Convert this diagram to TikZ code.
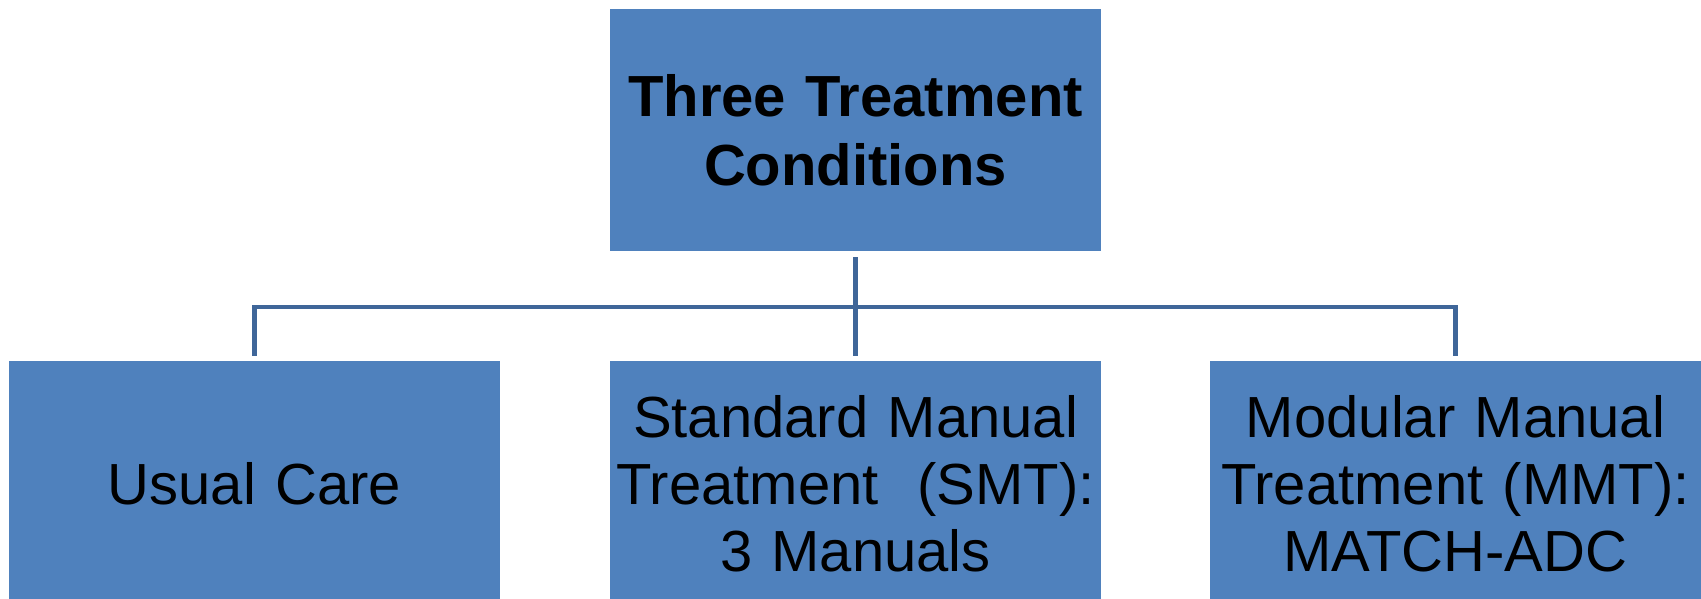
\documentclass[tikz,border=0pt]{standalone}
\usepackage{fontspec}
\setmainfont{Liberation Sans}
\definecolor{boxblue}{HTML}{4F81BD}
\definecolor{linkblue}{HTML}{3F6699}
\begin{document}
\begin{tikzpicture}[x=1pt,y=-1pt,
  box/.style={fill=boxblue, draw=none, inner sep=0pt, align=center,
    minimum width=491pt, text width=485pt, text=black},
  topbox/.style={box, minimum height=242pt,
    font=\fontsize{58}{69}\selectfont\bfseries},
  leafbox/.style={box, minimum height=245pt,
    font=\fontsize{58}{67}\selectfont},
  conn/.style={draw=linkblue, line width=4.5pt, line join=miter}]
  \clip (0,0) rectangle (1701,599);
  \fill[white] (0,0) rectangle (1701,599);

  % root and the three branches
  \node[topbox] (root) at (855.5,130) {Three Treatment\\Conditions};
  \node[leafbox] (uc)  at (254.5,483.5) {Usual Care};
  \node[leafbox] (smt) at (855.5,483.5) {Standard Manual\\Treatment\ \ (SMT):\\3 Manuals};
  \node[leafbox] (mmt) at (1455.5,483.5) {Modular Manual\\Treatment (MMT):\\MATCH-ADC};

  % connector tree
  \draw[conn] ([yshift=5pt]uc.north) -- ([yshift=54pt]uc.north) -| ([yshift=5pt]mmt.north);
  \draw[conn] ([yshift=-6pt]root.south) -- ([yshift=5pt]smt.north);
\end{tikzpicture}
\end{document}
